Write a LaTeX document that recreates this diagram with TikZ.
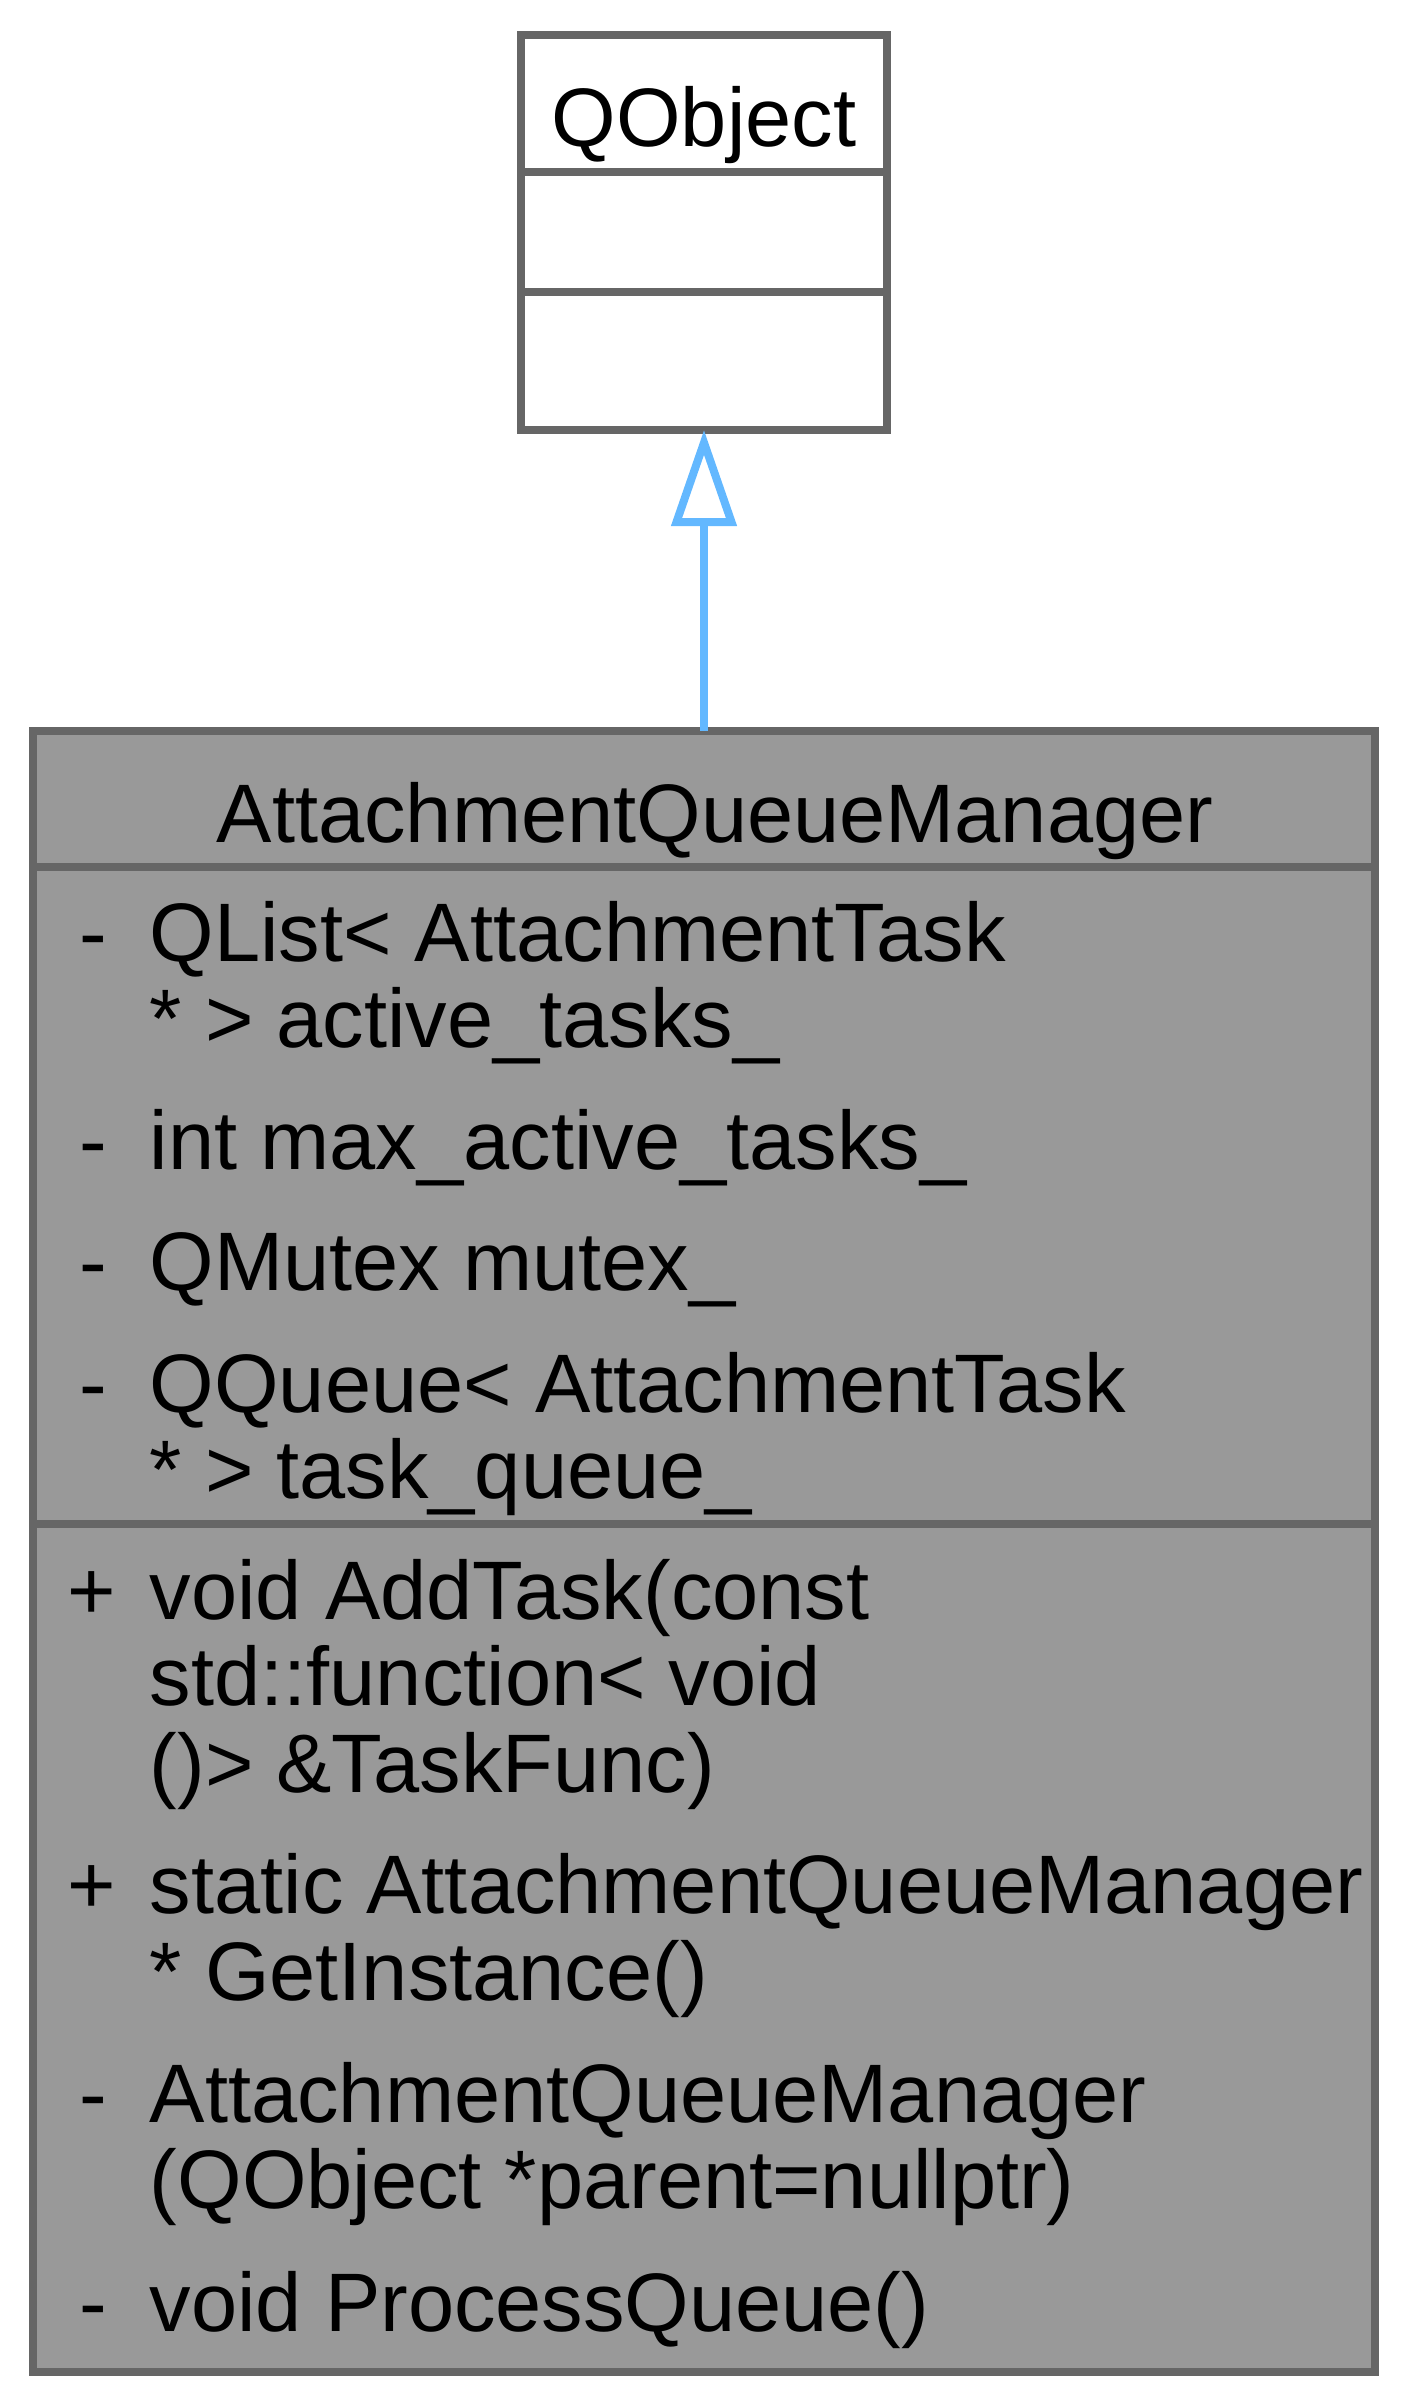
\documentclass[tikz,border=0pt]{standalone}
\usepackage{fontspec}
\setmainfont{Liberation Sans}
\usetikzlibrary{arrows.meta}

\definecolor{edgegray}{HTML}{666666}
\definecolor{boxgray}{HTML}{999999}
\definecolor{inheritblue}{HTML}{63B8FF}

\begin{document}
\begin{tikzpicture}[x=0.25pt,y=-0.25pt,
        font=\fontsize{20.75pt}{21.6pt}\selectfont,
        classbox/.style={draw=edgegray,line width=2pt,rectangle,inner sep=0pt,outer sep=0pt},
        sep/.style={draw=edgegray,line width=2pt},
        title/.style={anchor=base,inner sep=0pt},
        vis/.style={anchor=base,inner sep=0pt},
        member/.style={anchor=base west,inner sep=0pt,align=left}]

    \useasboundingbox (0,0) rectangle (1408,2408);

    % base class
    \node[classbox,fill=white,minimum width=91.5pt,minimum height=98.625pt] (qobject) at (704,232.75) {};
    \draw[sep] (qobject.west |- 0,172) -- (qobject.east |- 0,172);
    \draw[sep] (qobject.west |- 0,292) -- (qobject.east |- 0,292);
    \node[title] (qobjectname) at (704,147) {QObject};

    % derived class
    \node[classbox,fill=boxgray,minimum width=335.5pt,minimum height=410.375pt] (manager) at (704,1551.25) {};
    \draw[sep] (manager.west |- 0,867) -- (manager.east |- 0,867);
    \draw[sep] (manager.west |- 0,1524) -- (manager.east |- 0,1524);
    \node[title] (managername) at (715,842) {AttachmentQueueManager};

    % attributes (base = last line)
    \node[vis] (visactive) at (93,961) {-};
    \node[member] (activetasks) at (149,1047.5) {QList< AttachmentTask\\* > active\_tasks\_};
    \node[vis] (vismax) at (93,1169) {-};
    \node[member] (maxtasks) at (149,1169) {int max\_active\_tasks\_};
    \node[vis] (vismutex) at (93,1290.5) {-};
    \node[member] (mutex) at (149,1290.5) {QMutex mutex\_};
    \node[vis] (visqueue) at (93,1412) {-};
    \node[member] (taskqueue) at (149,1498.5) {QQueue< AttachmentTask\\* > task\_queue\_};

    % methods
    \node[vis] (visadd) at (92,1619) {+};
    \node[member] (addtask) at (149,1792) {void AddTask(const\\std::function< void\\()> \&TaskFunc)};
    \node[vis] (visget) at (92,1913.5) {+};
    \node[member] (getinstance) at (149,2000) {static AttachmentQueueManager\\* GetInstance()};
    \node[vis] (visctor) at (93,2122) {-};
    \node[member] (ctor) at (149,2208.5) {AttachmentQueueManager\\(QObject *parent=nullptr)};
    \node[vis] (visprocess) at (93,2331) {-};
    \node[member] (processqueue) at (149,2331) {void ProcessQueue()};

    % inheritance
    \draw[inheritblue,line width=2pt,-{Triangle[open,length=24pt,width=16pt]}] (manager) -- (qobject);
\end{tikzpicture}
\end{document}
